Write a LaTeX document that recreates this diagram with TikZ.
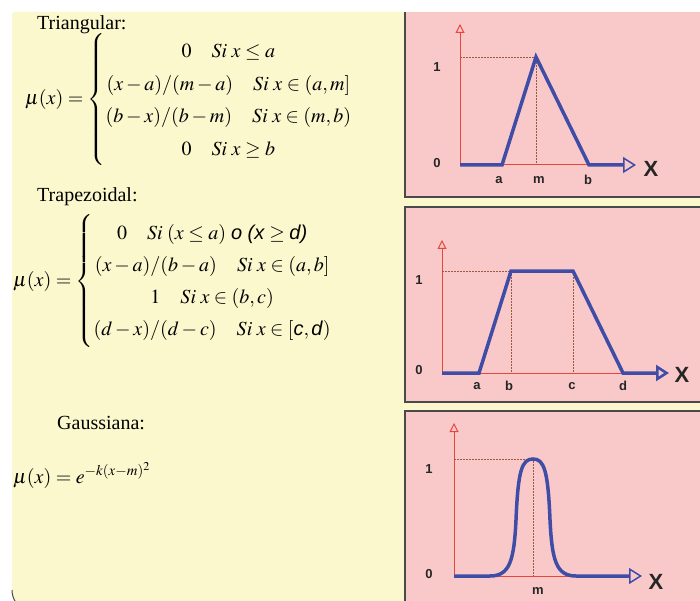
\documentclass[tikz,border=0pt]{standalone}
\usepackage{amsmath}
\usepackage{mathptmx}
\usepackage[no-math]{fontspec}
\setmainfont{Liberation Serif}
\setsansfont{Liberation Sans}
\usepackage{tikz}
\usetikzlibrary{arrows.meta}

\definecolor{boardyellow}{HTML}{FBF8CE}
\definecolor{panelpink}{HTML}{F9C9C9}
\definecolor{curveblue}{HTML}{3F4DA6}
\definecolor{axisred}{HTML}{E8463C}
\definecolor{guidebrown}{HTML}{9A5A40}
\definecolor{frameline}{HTML}{4A4A4A}

\tikzset{
  frame/.style={frameline,line width=1.5pt},
  yaxis/.style={axisred,line width=1pt,-{Triangle[open,length=9pt,width=9pt]}},
  baseaxis/.style={axisred,line width=1pt},
  guide/.style={guidebrown,line width=0.6pt,dash pattern=on 2pt off 1pt},
  curve/.style={curveblue,line width=3.5pt,line join=miter,
    -{Triangle[open,length=13pt,width=16pt,line width=1.5pt]}},
  lvl/.style={font=\sffamily\bfseries\fontsize{13}{13}\selectfont,text=black!85,inner sep=0pt},
  tick/.style={font=\sffamily\bfseries\fontsize{13}{13}\selectfont,text=black!85,inner sep=0pt},
  xname/.style={font=\sffamily\bfseries\fontsize{22}{22}\selectfont,text=black!85,inner sep=0pt},
  title/.style={anchor=base west,inner sep=0pt},
  formula/.style={anchor=base west,inner sep=0pt},
}

\begin{document}
\begin{tikzpicture}[x=1pt,y=-1pt,font=\fontsize{20}{24}\selectfont]
\useasboundingbox (0,0) rectangle (700,601);
\clip (0,0) rectangle (700,601);
% yellow board
\fill[boardyellow] (760,12) {[rounded corners=3pt] -- (12,12)}
  {[rounded corners=22pt] -- (12,612)} -- (760,612) -- cycle;
\draw[frameline,line width=1pt] (12,590) arc[start angle=180,end angle=215,radius=22pt];
% pink panels
\fill[panelpink] (405,12) rectangle (700,197);
\draw[frame] (405,12) -- (405,197) -- (700,197);
\fill[panelpink] (405,207) rectangle (700,402);
\draw[frame] (700,207) -- (405,207) -- (405,402) -- (700,402);
\fill[panelpink] (405,411) rectangle (700,601);
\draw[frame] (700,411) -- (405,411) -- (405,601);

% formulas
\node[title] (tri-title) at (37,30) {Triangular:};
\node[formula] (tri-eq) at (25,105) {$\mu(x)=\renewcommand{\arraystretch}{1.35}\left\{\begin{array}{@{}c@{}}
  0\quad Si\;x\le a\\
  (x-a)/(m-a)\quad Si\;x\in(a,m]\\
  (b-x)/(b-m)\quad Si\;x\in(m,b)\\
  0\quad Si\;x\ge b
\end{array}\right.$};
\node[title] (tra-title) at (37,202) {Trapezoidal:};
\node[formula] (tra-eq) at (13,286) {$\mu(x)=\renewcommand{\arraystretch}{1.33}\left\{\begin{array}{@{}c@{}}
  0\quad Si\;(x\le a)\ \textsf{\textit{o (x}}\ge\textsf{\textit{d)}}\\
  (x-a)/(b-a)\quad Si\;x\in(a,b]\\
  1\quad Si\;x\in(b,c)\\
  (d-x)/(d-c)\quad Si\;x\in[\textsf{\textit{c}},\textsf{\textit{d}})
\end{array}\right.$};
\node[title] (gau-title) at (57,429) {Gaussiana:};
\node[formula] (gau-eq) at (13,483) {$\mu(x)=e^{-k(x-m)^2}$};

% triangular membership
\coordinate (t-o) at (460,165);
\draw[yaxis] (t-o) -- (460,24);
\draw[baseaxis] (t-o) -- (623,165);
\draw[guide] (460,57) -- (536,57) -- (536,165);
\draw[curve] (t-o) -- (502,165) -- (536,57) -- (589,165) -- (636,165);
\node[lvl] (t-one) at (437,67) {1};
\node[lvl] (t-zero) at (437,163) {0};
\foreach \x/\l in {499/a,539/m,588/b}
  \node[tick] (t-\l) at (\x,180) {\l};
\node[xname] (t-x) at (651,169) {X};

% trapezoidal membership
\coordinate (p-o) at (442,373);
\draw[yaxis] (p-o) -- (442,240);
\draw[baseaxis] (p-o) -- (657,373);
\draw[guide] (442,271) -- (511,271) -- (511,373);
\draw[guide] (573,271) -- (573,373);
\draw[curve,-{Triangle[open,length=13pt,width=16pt,line width=2.6pt]}]
  (p-o) -- (479,373) -- (511,271) -- (573,271) -- (623,373) -- (669,373);
\node[lvl] (p-one) at (419,280) {1};
\node[lvl] (p-zero) at (419,370) {0};
\foreach \x/\l in {477/a,509/b,572/c,623/d}
  \node[tick] (p-\l) at (\x,386) {\l};
\node[xname] (p-x) at (682,375) {X};

% gaussian membership
\coordinate (g-o) at (454,576);
\draw[yaxis] (g-o) -- (454,423);
\draw[baseaxis] (g-o) -- (630,576);
\draw[guide] (454,459) -- (533,459) -- (533,576);
\draw[curve] (g-o) -- (490,576)
  .. controls (510,576) and (514,560) .. (516,520)
  .. controls (518,470) and (522,459) .. (533,459)
  .. controls (544,459) and (548,470) .. (550,520)
  .. controls (552,560) and (556,576) .. (576,576)
  -- (642,576);
\node[lvl] (g-one) at (429,469) {1};
\node[lvl] (g-zero) at (429,574) {0};
\node[tick] (g-m) at (538,591) {m};
\node[xname] (g-x) at (656,582) {X};
\end{tikzpicture}
\end{document}
